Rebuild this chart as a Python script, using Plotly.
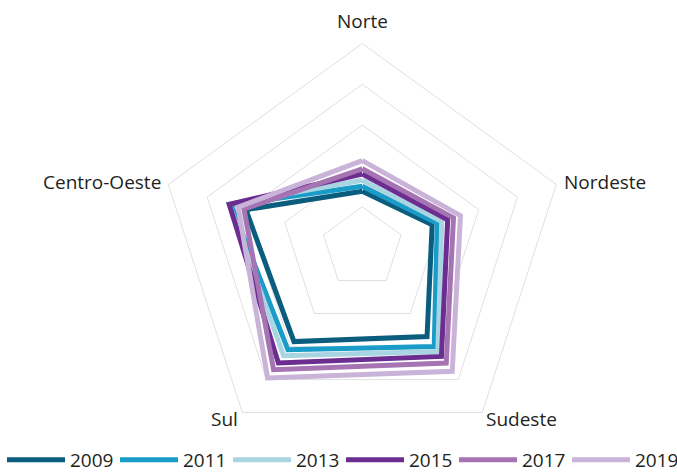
import plotly.graph_objects as go

regions = ["Norte", "Nordeste", "Sudeste", "Sul", "Centro-Oeste"]
years = ["2009", "2011", "2013", "2015", "2017", "2019"]

v2009 = [13.8, 18.0, 27.0, 28.5, 30.0]
v2011 = [15.0, 19.3, 30.0, 31.0, 33.8]
v2013 = [16.5, 20.5, 31.5, 32.8, 34.3]
v2015 = [18.0, 22.0, 33.0, 35.0, 34.3]
v2017 = [19.3, 23.5, 35.0, 37.0, 30.5]
v2019 = [21.3, 25.3, 37.5, 39.5, 32.0]

series = [v2009, v2011, v2013, v2015, v2017, v2019]
colors = ["#0b5d7e", "#1a9cc8", "#a9d5e3", "#6b2d8f", "#a673b3", "#cab3d8"]

W, H = 677, 474
cx, cy, R = 362.3, 247.5, 204.0

# label positions (pixels from top-left) and anchors
label_pos = {
    "Norte": (362.5, 21.5, "center"),
    "Nordeste": (562, 181.5, "left"),
    "Sudeste": (484, 418.5, "left"),
    "Sul": (240, 418.5, "right"),
    "Centro-Oeste": (163, 182.0, "right"),
}

fig = go.Figure()
for name, vals, col in zip(years, series, colors):
    fig.add_trace(go.Scatterpolar(
        r=vals + [vals[0]],
        theta=regions + [regions[0]],
        mode="lines",
        name=name,
        line=dict(color=col, width=5),
    ))

annotations = []
for reg in regions:
    px, py, anc = label_pos[reg]
    annotations.append(dict(
        text=reg, x=px / W, y=1 - py / H, xref="paper", yref="paper",
        xanchor=anc, yanchor="middle", showarrow=False,
        font=dict(size=19, color="#231f20"),
    ))

fig.update_layout(
    width=W, height=H,
    margin=dict(l=0, r=0, t=0, b=0, autoexpand=False),
    paper_bgcolor="white",
    plot_bgcolor="white",
    font=dict(family="Open Sans", size=19, color="#231f20"),
    showlegend=True,
    annotations=annotations,
    legend=dict(
        orientation="h",
        x=2 / W, xanchor="left",
        y=-0.0105, yanchor="bottom",
        itemwidth=58,
        entrywidth=40, entrywidthmode="pixels",
        font=dict(size=19, color="#231f20"),
        bgcolor="rgba(0,0,0,0)",
    ),
    polar=dict(
        domain=dict(
            x=[(cx - R) / W, (cx + R) / W],
            y=[(H - cy - R) / H, (H - cy + R) / H],
        ),
        bgcolor="white",
        gridshape="linear",
        radialaxis=dict(
            range=[0, 50], dtick=10, tick0=0,
            showticklabels=False, ticks="",
            showline=False,
            gridcolor="#e0e0e0", gridwidth=1,
        ),
        angularaxis=dict(
            direction="clockwise", rotation=90,
            showgrid=False, ticks="", showticklabels=False,
            showline=True, linecolor="#e0e0e0", linewidth=1,
        ),
    ),
)

fig.write_html("out.html", config={"displayModeBar": False},
               post_script="document.body.style.margin='0px';")
